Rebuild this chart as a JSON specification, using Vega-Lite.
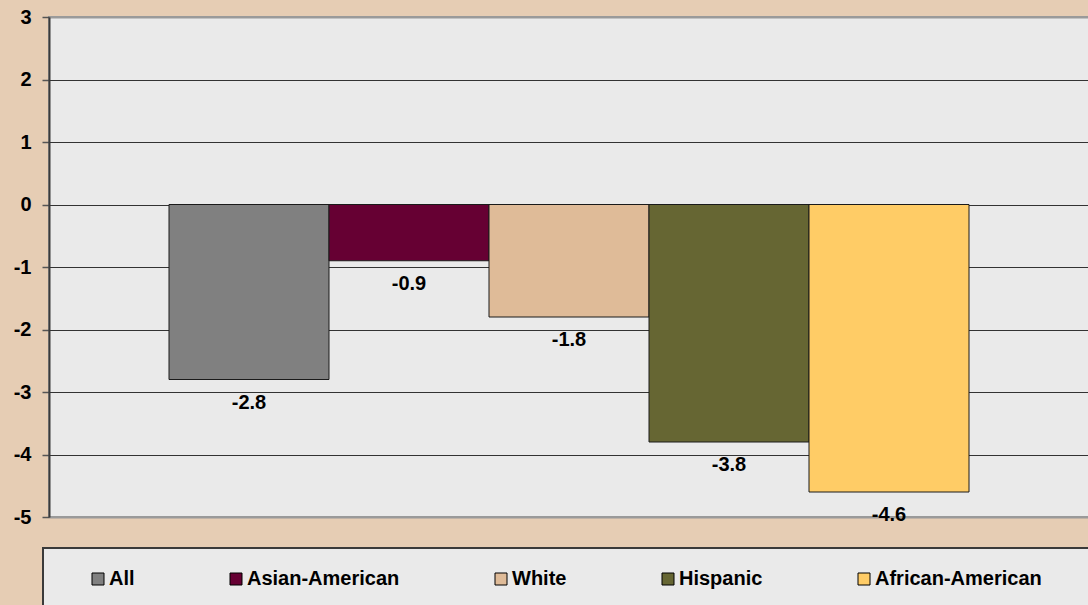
{
  "$schema": "https://vega.github.io/schema/vega-lite/v6.json",
  "width": 1040,
  "height": 500,
  "autosize": {"type": "none"},
  "padding": {"left": 49, "top": 17, "right": 0, "bottom": 88},
  "background": "#e6cdb4",
  "data": {
    "values": [
      {"group": "All", "change": -2.8},
      {"group": "Asian-American", "change": -0.9},
      {"group": "White", "change": -1.8},
      {"group": "Hispanic", "change": -3.8},
      {"group": "African-American", "change": -4.6}
    ]
  },
  "encoding": {
    "x": {
      "field": "group",
      "type": "nominal",
      "sort": ["All", "Asian-American", "White", "Hispanic", "African-American"],
      "axis": null,
      "scale": {"paddingInner": 0, "paddingOuter": 0.75}
    },
    "y": {
      "field": "change",
      "type": "quantitative",
      "scale": {"domain": [-5, 3], "nice": false, "zero": true},
      "axis": {
        "title": null,
        "values": [-5, -4, -3, -2, -1, 0, 1, 2, 3],
        "labelExpr": "'' + datum.value",
        "labelFlush": false,
        "labelAlign": "right",
        "labelBaseline": "middle",
        "labelFont": "Liberation Sans",
        "labelFontSize": 20,
        "labelFontWeight": "bold",
        "labelColor": "#000000",
        "labelPadding": 11,
        "tickSize": 7,
        "tickColor": "#555555",
        "tickWidth": 1.5,
        "domainColor": "#3a3a3a",
        "domainWidth": 2,
        "grid": true,
        "gridColor": {"condition": {"test": "datum.value === 3 || datum.value === -5", "value": "#9a9a9a"}, "value": "#333333"},
        "gridWidth": {"condition": {"test": "datum.value === 3 || datum.value === -5", "value": 2}, "value": 1},
        "gridOpacity": 1
      }
    }
  },
  "layer": [
    {
      "mark": {"type": "bar", "stroke": "#1a1a1a", "strokeWidth": 1},
      "encoding": {
        "color": {
          "field": "group",
          "type": "nominal",
          "scale": {
            "domain": ["All", "Asian-American", "White", "Hispanic", "African-American"],
            "range": ["#808080", "#660033", "#dfbb98", "#666633", "#ffcc66"]
          },
          "legend": {
            "orient": "none",
            "legendX": -6,
            "legendY": 531,
            "direction": "horizontal",
            "title": " ",
            "titleOrient": "right",
            "titleFontSize": 11,
            "titlePadding": 40,
            "padding": 21,
            "fillColor": "#eaeaea",
            "strokeColor": "#3a3a3a",
            "columnPadding": 67,
            "symbolType": "square",
            "symbolSize": 144,
            "symbolOffset": 24,
            "symbolStrokeColor": "#000000",
            "symbolStrokeWidth": 1,
            "symbolOpacity": 1,
            "labelFont": "Liberation Sans",
            "labelFontSize": 20,
            "labelFontWeight": "bold",
            "labelColor": "#000000",
            "labelOffset": 1,
            "labelLimit": 0
          }
        }
      }
    },
    {
      "mark": {
        "type": "text",
        "baseline": "middle",
        "align": "center",
        "dy": 23,
        "font": "Liberation Sans",
        "fontSize": 20,
        "fontWeight": "bold",
        "color": "#000000"
      },
      "encoding": {
        "text": {"field": "change", "type": "nominal"}
      }
    }
  ],
  "config": {
    "view": {"fill": "#eaeaea", "stroke": "#9a9a9a", "strokeWidth": 2},
    "legend": {"strokeWidth": 2}
  }
}
